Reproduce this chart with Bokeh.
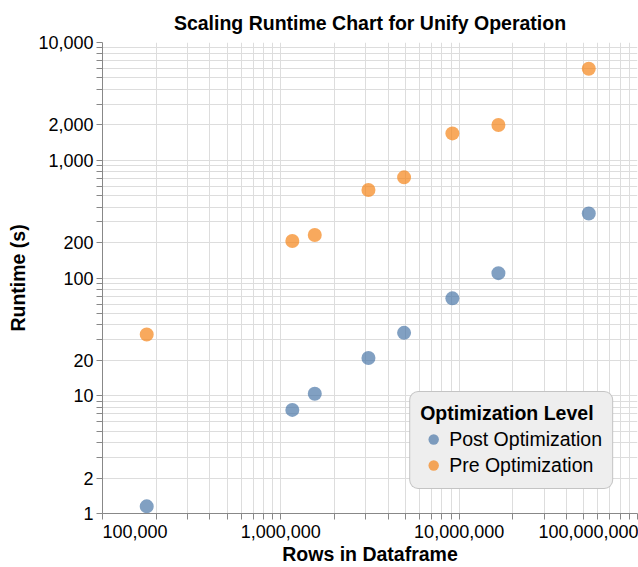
from bokeh.plotting import figure
from bokeh.models import FixedTicker, Range1d, Legend
from bokeh.embed import file_html
from bokeh.resources import INLINE

# ---- data ----
rows = [177000, 1160000, 1550000, 3100000, 4910000, 9160000, 16600000, 53300000]
post_runtime = [1.15, 7.58, 10.4, 20.9, 34.2, 67.2, 109.9, 352.6]
pre_runtime = [33.1, 206, 232, 559, 716, 1690, 1991, 5985]

series_names = ["Post Optimization", "Pre Optimization"]
series_colors = ["#4c78a8", "#f58518"]

x_tick_values = [100000, 1000000, 10000000, 100000000]
x_tick_labels = ["100,000", "1,000,000", "10,000,000", "100,000,000"]
y_tick_values = [1, 2, 10, 20, 100, 200, 1000, 2000, 10000]
y_tick_labels = ["1", "2", "10", "20", "100", "200", "1,000", "2,000", "10,000"]

chart_title = "Scaling Runtime Chart for Unify Operation"

FONT = "Liberation Sans"
NBSP = "\u00a0"


def minor_between(lo_exp, hi_exp, majors):
    out = []
    for e in range(lo_exp, hi_exp):
        for m in range(1, 10):
            v = m * 10 ** e
            if v not in majors:
                out.append(v)
    return out


x_minor = minor_between(5, 8, x_tick_values)
y_minor = minor_between(0, 4, y_tick_values)


def units(s):
    # label width in quarter-em units (digit = 2, comma = 1): used to left-flush the first label
    return sum(2 if c.isdigit() else 1 for c in s)


p = figure(
    width=638, height=567,
    x_axis_type="log", y_axis_type="log",
    x_range=Range1d(1e5, 1e8), y_range=Range1d(1, 1e4),
    min_border_left=102, min_border_right=1, min_border_top=10, min_border_bottom=54,
    output_backend="svg", toolbar_location=None,
    title=chart_title,
)
p.outline_line_color = None
p.background_fill_color = "white"
p.border_fill_color = "white"

p.title.align = "center"
p.title.text_font = FONT
p.title.text_font_size = "19.5px"
p.title.text_font_style = "bold"
p.title.text_color = "#000000"
p.title.standoff = 18

# ticks / grid
xt = FixedTicker(ticks=x_tick_values, minor_ticks=x_minor)
yt = FixedTicker(ticks=y_tick_values, minor_ticks=y_minor)
p.xaxis.ticker = xt
p.yaxis.ticker = yt
p.xgrid.ticker = xt
p.ygrid.ticker = yt

xlabels = {}
for i, (v, s) in enumerate(zip(x_tick_values, x_tick_labels)):
    if i == 0:
        s = NBSP * units(s) + s
    xlabels[v] = s
p.xaxis.major_label_overrides = xlabels
p.yaxis.major_label_overrides = {v: s for v, s in zip(y_tick_values, y_tick_labels)}

for ax in (p.xaxis[0], p.yaxis[0]):
    ax.axis_line_color = "#888888"
    ax.major_tick_line_color = "#888888"
    ax.minor_tick_line_color = "#888888"
    ax.major_tick_out = 6
    ax.major_tick_in = 0
    ax.minor_tick_out = 6
    ax.minor_tick_in = 0
    ax.major_label_text_font = FONT
    ax.major_label_text_font_size = "18px"
    ax.major_label_text_color = "#000000"
    ax.axis_label_text_font = FONT
    ax.axis_label_text_font_size = "19.5px"
    ax.axis_label_text_font_style = "bold"
    ax.axis_label_text_color = "#000000"

p.xaxis.axis_label = "Rows in Dataframe"
p.xaxis.major_label_standoff = 2
p.xaxis.axis_label_standoff = -2
p.yaxis.axis_label = "Runtime (s)"
p.yaxis.major_label_standoff = 3
p.yaxis.axis_label_standoff = 6

for g in (p.xgrid[0], p.ygrid[0]):
    g.grid_line_color = "#dddddd"
    g.minor_grid_line_color = "#dddddd"
    g.grid_line_width = 1
    g.minor_grid_line_width = 1

for vals, name, color in zip([post_runtime, pre_runtime], series_names, series_colors):
    p.scatter(rows, vals, size=14, marker="circle", fill_color=color, fill_alpha=0.7,
              line_color=None, legend_label=name)

lg = p.legend[0]
lg.location = "bottom_right"
lg.margin = 24
lg.title = "Optimization Level"
lg.title_text_font = FONT
lg.title_text_font_size = "19.5px"
lg.title_text_font_style = "bold"
lg.title_text_color = "#000000"
lg.label_text_font = FONT
lg.label_text_font_size = "19.5px"
lg.label_text_color = "#000000"
lg.padding = 10
lg.spacing = 0
lg.glyph_width = 26
lg.glyph_height = 26
lg.label_height = 20
lg.label_standoff = 3
lg.title_standoff = 1
lg.border_line_color = "#999999"
lg.border_line_width = 1
lg.background_fill_color = "#eeeeee"
lg.background_fill_alpha = 1.0
if "border_radius" in Legend.properties():
    lg.border_radius = 9

open("out.html", "w").write(file_html(p, INLINE))
